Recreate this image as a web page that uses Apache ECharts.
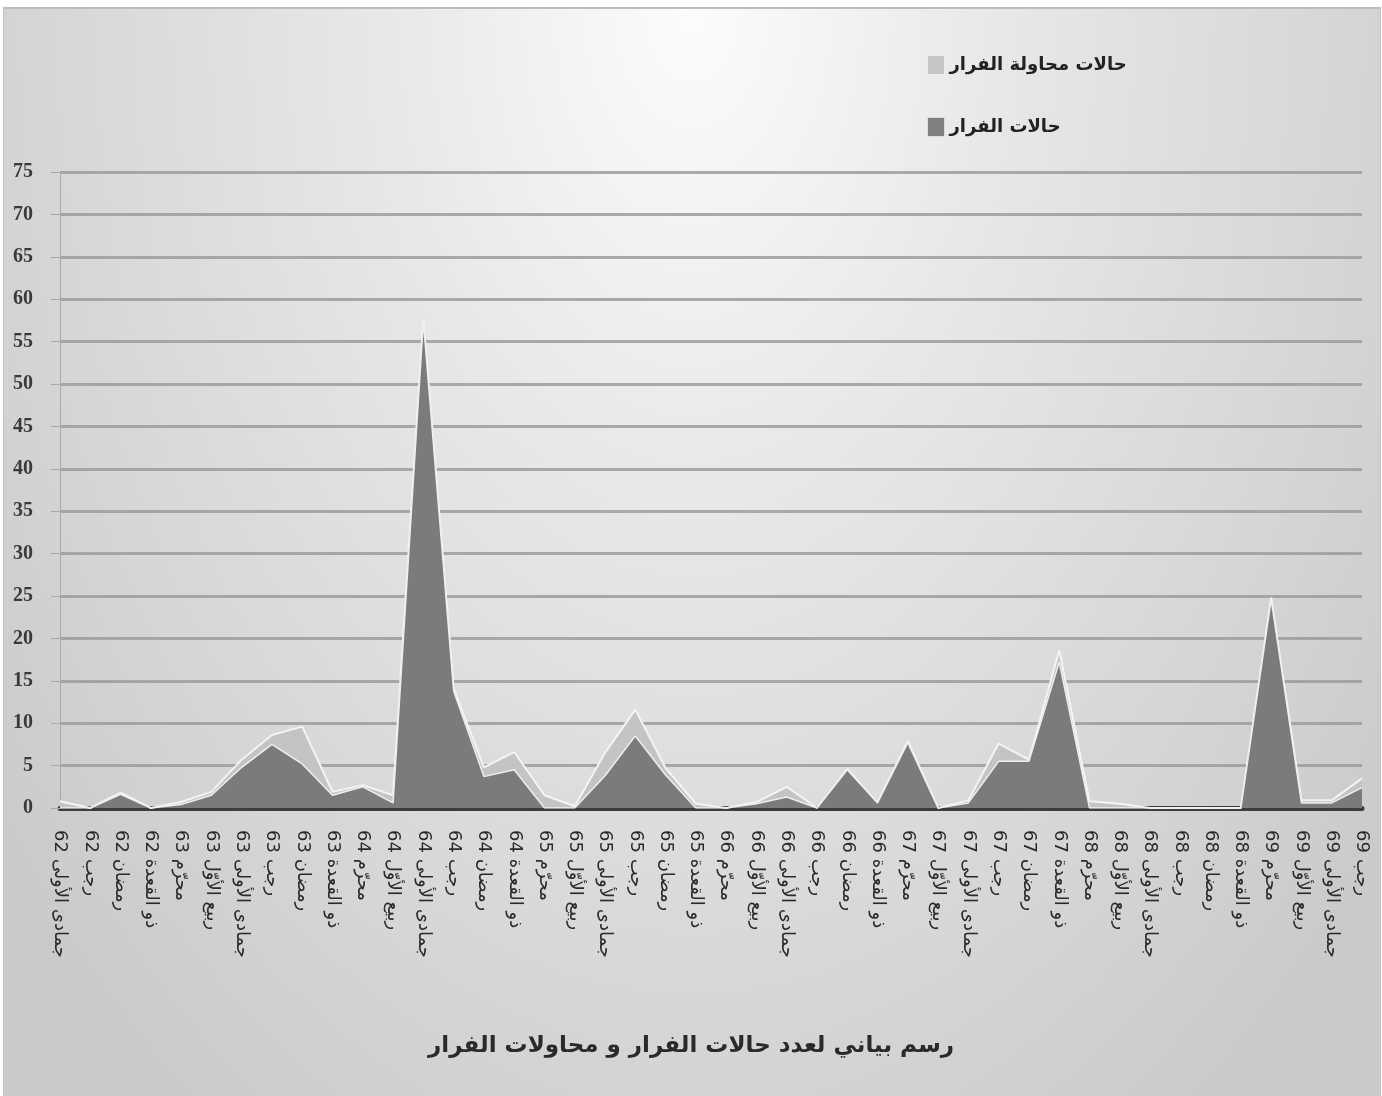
<!DOCTYPE html>
<html lang="ar">
<head>
<meta charset="utf-8">
<title>رسم بياني لعدد حالات الفرار و محاولات الفرار</title>
<script src="https://cdn.jsdelivr.net/npm/echarts@6/dist/echarts.min.js"></script>
<style>
    html, body { margin: 0; padding: 0; background: #ffffff; }
    #frame {
        position: absolute; left: 3px; top: 7px; width: 1376px; height: 1089px;
        border-top: 2px solid #bdbdbd; border-left: 1px solid #c4c4c4; border-right: 1px solid #c4c4c4;
        background: radial-gradient(ellipse 64% 125% at 50% 0%, #fcfcfc 0%, #e8e8e8 35%, #d8d8d8 70%, #cacaca 100%);
    }
    #chart { position: absolute; left: 0; top: 0; width: 1382px; height: 1096px; }
</style>
</head>
<body>
<div id="frame"></div>
<div id="chart"></div>
<script>
// الفترات (الشهر + السنة الهجرية)
const categories = [
    'جمادى الأولى 62', 'رجب 62', 'رمضان 62', 'ذو القعدة 62',
    'محرّم 63', 'ربيع الأوّل 63', 'جمادى الأولى 63', 'رجب 63', 'رمضان 63', 'ذو القعدة 63',
    'محرّم 64', 'ربيع الأوّل 64', 'جمادى الأولى 64', 'رجب 64', 'رمضان 64', 'ذو القعدة 64',
    'محرّم 65', 'ربيع الأوّل 65', 'جمادى الأولى 65', 'رجب 65', 'رمضان 65', 'ذو القعدة 65',
    'محرّم 66', 'ربيع الأوّل 66', 'جمادى الأولى 66', 'رجب 66', 'رمضان 66', 'ذو القعدة 66',
    'محرّم 67', 'ربيع الأوّل 67', 'جمادى الأولى 67', 'رجب 67', 'رمضان 67', 'ذو القعدة 67',
    'محرّم 68', 'ربيع الأوّل 68', 'جمادى الأولى 68', 'رجب 68', 'رمضان 68', 'ذو القعدة 68',
    'محرّم 69', 'ربيع الأوّل 69', 'جمادى الأولى 69', 'رجب 69'
];

// حالات الفرار (الطبقة الداكنة)
const escapeCases = [
    0, 0, 1.6, 0,
    0.4, 1.5, 4.8, 7.5, 5.2, 1.5,
    2.5, 0.6, 57.4, 13.8, 3.7, 4.5,
    0, 0, 3.8, 8.5, 3.9, 0,
    0, 0.5, 1.3, 0, 4.5, 0.6,
    7.7, 0, 0.6, 5.5, 5.5, 17.2,
    0, 0, 0, 0, 0, 0,
    24.6, 0.6, 0.6, 2.4
];

// حالات محاولة الفرار (الطبقة الفاتحة، مكدسة فوق الأولى)
const attemptCases = [
    0.8, 0, 0.2, 0,
    0.3, 0.4, 0.9, 1.1, 4.4, 0.4,
    0.2, 0.9, 0.2, 0.3, 1.1, 2.1,
    1.5, 0.2, 2.7, 3.1, 0.8, 0.5,
    0, 0.2, 1.2, 0, 0.1, 0,
    0.2, 0, 0.3, 2.1, 0.2, 1.4,
    0.8, 0.5, 0, 0, 0, 0,
    0.2, 0.3, 0.3, 1.1
];

const yTicks = { min: 0, max: 75, interval: 5 };

const arabicFont = '"DejaVu Sans", "Noto Sans", sans-serif';

const chart = echarts.init(document.getElementById('chart'), null, { renderer: 'canvas' });

chart.setOption({
    backgroundColor: 'transparent',
    animation: false,
    title: {
        text: 'رسم بياني لعدد حالات الفرار و محاولات الفرار',
        left: 'center',
        top: 1030,
        textStyle: { fontFamily: arabicFont, fontSize: 23, fontWeight: 'bold', color: '#2a2a2a' }
    },
    legend: {
        orient: 'vertical',
        left: 922,
        top: 50,
        itemGap: 42,
        itemWidth: 17,
        itemHeight: 19,
        data: [
            { name: 'حالات محاولة الفرار', icon: 'rect', itemStyle: { color: '#c6c6c6', borderColor: '#eeeeee', borderWidth: 1 } },
            { name: 'حالات الفرار', icon: 'rect', itemStyle: { color: '#808080', borderColor: '#dddddd', borderWidth: 1 } }
        ],
        textStyle: { fontFamily: arabicFont, fontSize: 18, fontWeight: 'bold', color: '#222222' }
    },
    grid: { left: 60, right: 20, top: 172, bottom: 288, containLabel: false },
    xAxis: {
        type: 'category',
        data: categories,
        boundaryGap: false,
        axisLine: { show: true, lineStyle: { color: '#3c3c3c', width: 5 } },
        axisTick: { show: false },
        axisLabel: {
            interval: 0,
            rotate: -90,
            margin: 22,
            fontFamily: arabicFont,
            fontSize: 18,
            color: '#2a2a2a'
        },
        splitLine: { show: false }
    },
    yAxis: {
        type: 'value',
        min: yTicks.min,
        max: yTicks.max,
        interval: yTicks.interval,
        axisLine: { show: true, lineStyle: { color: '#a8a8a8', width: 1 } },
        axisTick: { show: true, length: 9, lineStyle: { color: '#a8a8a8' } },
        axisLabel: {
            margin: 27,
            fontFamily: '"Liberation Serif", serif',
            fontWeight: 'bold',
            fontSize: 20,
            color: '#3a3a3a'
        },
        splitLine: { show: true, lineStyle: { color: '#9c9c9c', width: 3, opacity: 0.85 } }
    },
    series: [
        {
            name: 'حالات الفرار',
            type: 'line',
            stack: 'total',
            data: escapeCases,
            symbol: 'none',
            z: 3,
            lineStyle: { color: '#eeeeee', width: 1.5 },
            areaStyle: { color: '#7b7b7b', opacity: 1 }
        },
        {
            name: 'حالات محاولة الفرار',
            type: 'line',
            stack: 'total',
            data: attemptCases,
            symbol: 'none',
            z: 2,
            lineStyle: { color: '#f4f4f4', width: 2 },
            areaStyle: { color: '#c4c4c4', opacity: 1 }
        }
    ]
});

console.log('chart rendered:', categories.length, 'categories');
</script>
</body>
</html>
